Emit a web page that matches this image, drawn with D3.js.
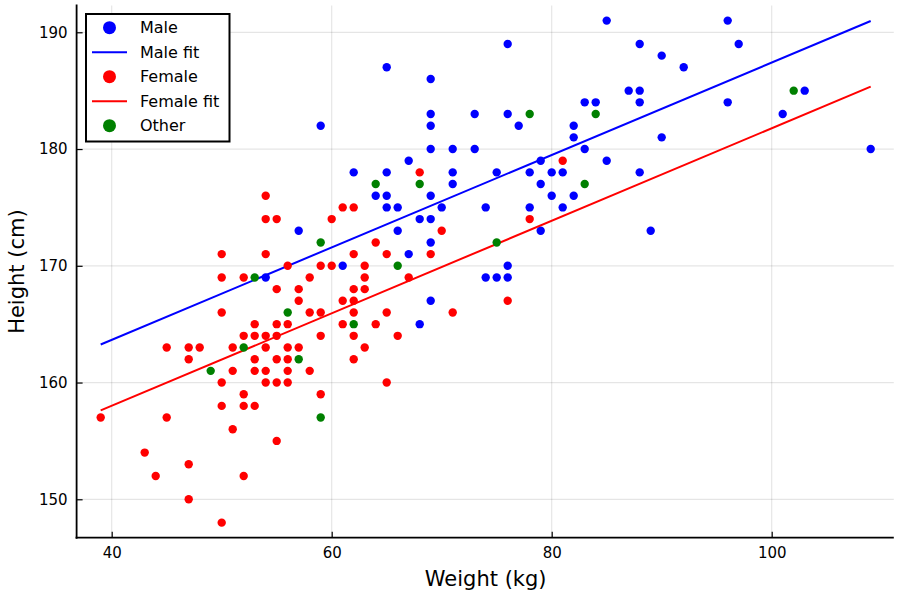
<!DOCTYPE html>
<html>
<head>
<meta charset="utf-8">
<script src="https://cdn.jsdelivr.net/npm/d3@7"></script>
<style>
  html, body { margin: 0; padding: 0; background: #fff; }
  svg { display: block; font-family: "DejaVu Sans", sans-serif; }
</style>
</head>
<body>
<svg id="chart" width="900" height="600"></svg>
<script>
// ---- data (weight kg, height cm) ----
const maleWeight = [85,96,88,76,97,90,65,92,69,87,88,103,83,84,88,96,69,73,76,101,59,69,77,82,82,90,69,71,73,83,109,67,79,85,62,65,71,75,78,80,81,88,71,79,64,65,69,80,82,65,66,70,74,78,81,68,69,57,66,79,89,69,67,61,76,54,74,75,76,69,68];
const maleHeight = [191,191,189,189,189,188,187,187,186,185,185,185,184,184,184,184,183,183,183,183,182,182,182,182,181,181,180,180,180,180,180,179,179,179,178,178,178,178,178,178,178,178,177,177,176,176,176,176,176,175,175,175,175,175,175,174,174,173,173,173,173,172,171,170,170,169,169,169,169,167,165];

const femaleWeight = [68,81,61,62,54,54,55,60,78,70,64,50,54,62,65,69,56,59,60,63,50,52,58,63,67,55,57,62,63,57,61,62,76,50,58,59,62,65,71,53,55,56,61,64,52,53,54,55,59,62,66,45,47,48,51,54,56,57,63,47,53,55,56,62,51,53,54,56,58,50,54,55,56,65,52,59,50,52,53,39,45,51,55,43,47,44,52,47,50];
const femaleHeight = [178,179,175,175,176,174,174,174,174,173,172,171,171,171,171,171,170,170,170,170,169,169,169,169,169,168,168,168,168,167,167,167,167,166,166,166,166,166,166,165,165,165,165,165,164,164,164,164,164,164,164,163,163,163,163,163,163,163,163,162,162,162,162,162,161,161,161,161,161,160,160,160,160,160,159,159,158,158,158,157,157,156,155,154,153,152,152,150,148];

const otherWeight = [102,78,84,64,68,83,75,59,66,53,56,62,52,57,49,59];
const otherHeight = [185,183,183,177,177,177,172,172,170,169,166,165,163,162,161,157];

// fitted lines (endpoints)
const fitWeight = [39, 109];
const maleFitHeight = [163.26, 190.97];
const femaleFitHeight = [157.61, 185.35];

const xTicks = [40, 60, 80, 100];
const yTicks = [150, 160, 170, 180, 190];
const legendLabels = ["Male", "Male fit", "Female", "Female fit", "Other"];

// ---- layout ----
const svg = d3.select("#chart");
const plot = { left: 77.6, right: 893.8, top: 5.56, bottom: 537.7 };
const x = d3.scaleLinear().domain([36.9, 111.1]).range([plot.left, plot.right]);
const y = d3.scaleLinear().domain([146.71, 192.29]).range([plot.bottom, plot.top]);

const BLUE = "#0000ff", RED = "#ff0000", GREEN = "#008000";

// grid
const grid = svg.append("g");
grid.selectAll("line.gx").data(xTicks).enter().append("line")
  .attr("x1", d => x(d)).attr("x2", d => x(d))
  .attr("y1", plot.top).attr("y2", plot.bottom)
  .attr("stroke", "#000").attr("stroke-opacity", 0.1).attr("stroke-width", 1.2);
grid.selectAll("line.gy").data(yTicks).enter().append("line")
  .attr("x1", plot.left).attr("x2", plot.right)
  .attr("y1", d => y(d)).attr("y2", d => y(d))
  .attr("stroke", "#000").attr("stroke-opacity", 0.1).attr("stroke-width", 1.2);

// axes
const xAxis = d3.axisBottom(x).tickValues(xTicks).tickSize(-6).tickPadding(10).tickFormat(d3.format("d"));
const yAxis = d3.axisLeft(y).tickValues(yTicks).tickSize(-6).tickPadding(9).tickFormat(d3.format("d"));

const gx = svg.append("g").attr("transform", `translate(0,${plot.bottom})`).call(xAxis);
const gy = svg.append("g").attr("transform", `translate(${plot.left - 1},0)`).call(yAxis);
[gx, gy].forEach(g => {
  g.select(".domain").remove();
  g.selectAll(".tick line").attr("stroke", "#000").attr("stroke-width", 1.2);
  g.selectAll(".tick text").attr("fill", "#000").attr("font-size", 15)
    .attr("font-family", "DejaVu Sans, sans-serif");
});
gx.selectAll(".tick text").attr("dy", "0.71em");
// axis lines
svg.append("line").attr("x1", plot.left - 1).attr("x2", plot.left - 1)
  .attr("y1", plot.top - 1).attr("y2", plot.bottom + 1)
  .attr("stroke", "#000").attr("stroke-width", 1.8);
svg.append("line").attr("x1", plot.left - 2).attr("x2", plot.right)
  .attr("y1", plot.bottom).attr("y2", plot.bottom)
  .attr("stroke", "#000").attr("stroke-width", 1.8);

// axis titles
svg.append("text").attr("x", (plot.left + plot.right) / 2).attr("y", 586)
  .attr("text-anchor", "middle").attr("font-size", 21).attr("fill", "#000")
  .text("Weight (kg)");
svg.append("text").attr("transform", `translate(24,${(plot.top + plot.bottom) / 2}) rotate(-90)`)
  .attr("text-anchor", "middle").attr("font-size", 21).attr("fill", "#000")
  .text("Height (cm)");

// series
const layer = svg.append("g");
function scatter(ws, hs, color) {
  layer.append("g").selectAll("circle").data(ws.map((w, i) => [w, hs[i]])).enter()
    .append("circle").attr("cx", d => x(d[0])).attr("cy", d => y(d[1]))
    .attr("r", 4.2).attr("fill", color);
}
function fit(hs, color) {
  const line = d3.line().x(d => x(d[0])).y(d => y(d[1]));
  layer.append("path").datum(fitWeight.map((w, i) => [w, hs[i]]))
    .attr("d", line).attr("fill", "none").attr("stroke", color).attr("stroke-width", 2);
}
scatter(maleWeight, maleHeight, BLUE);
fit(maleFitHeight, BLUE);
scatter(femaleWeight, femaleHeight, RED);
fit(femaleFitHeight, RED);
scatter(otherWeight, otherHeight, GREEN);

// legend
const lg = svg.append("g");
lg.append("rect").attr("x", 86).attr("y", 14).attr("width", 143.5).attr("height", 127.5)
  .attr("fill", "#fff").attr("stroke", "#000").attr("stroke-width", 2);
const legendKinds = ["dot", "line", "dot", "line", "dot"];
const legendColors = [BLUE, BLUE, RED, RED, GREEN];
legendLabels.forEach((lab, i) => {
  const cy = 27.7 + i * 24.5;
  if (legendKinds[i] === "dot") {
    lg.append("circle").attr("cx", 109.5).attr("cy", cy).attr("r", 6.5).attr("fill", legendColors[i]);
  } else {
    lg.append("line").attr("x1", 92).attr("x2", 127).attr("y1", cy).attr("y2", cy)
      .attr("stroke", legendColors[i]).attr("stroke-width", 2);
  }
  lg.append("text").attr("x", 140).attr("y", cy).attr("dy", "0.36em")
    .attr("font-size", 16).attr("fill", "#000").text(lab);
});
</script>
</body>
</html>
